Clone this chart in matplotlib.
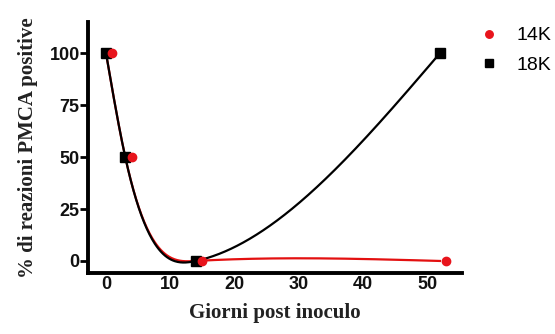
import matplotlib.pyplot as plt
import numpy as np

# dati
giorni = [0, 3, 14, 52]
perc_14k = [100, 50, 0, 0]
perc_18k = [100, 50, 0, 100]
spost_14k = 1  # i punti 14K sono spostati di un giorno per non coprirsi


def spline_naturale(x, y, xs):
    # spline cubica naturale che passa per tutti i punti
    x = np.asarray(x, float)
    y = np.asarray(y, float)
    n = len(x)
    h = np.diff(x)
    d = np.diff(y) / h
    A = np.zeros((n, n))
    b = np.zeros(n)
    A[0, 0] = 1
    A[-1, -1] = 1
    for i in range(1, n - 1):
        A[i, i - 1] = h[i - 1]
        A[i, i] = 2 * (h[i - 1] + h[i])
        A[i, i + 1] = h[i]
        b[i] = 6 * (d[i] - d[i - 1])
    M = np.linalg.solve(A, b)
    k = np.clip(np.searchsorted(x, xs) - 1, 0, n - 2)
    a = x[k + 1] - xs
    c = xs - x[k]
    hk = h[k]
    return (M[k] * a**3 / (6 * hk) + M[k + 1] * c**3 / (6 * hk)
            + (y[k] / hk - M[k] * hk / 6) * a + (y[k + 1] / hk - M[k + 1] * hk / 6) * c)


fig = plt.figure(figsize=(5.55, 3.34), dpi=100)
ax = fig.add_axes([0.1586, 0.1826, 0.6734, 0.7514])

xs = np.linspace(giorni[0], giorni[-1], 500)
ax.plot(xs, spline_naturale(giorni, perc_14k, xs), color='#e31010', lw=1.6, zorder=2)
ax.plot(xs, spline_naturale(giorni, perc_18k, xs), color='black', lw=1.6, zorder=3)

ax.plot(giorni, perc_18k, 's', color='black', ms=7, label='18K', zorder=4, clip_on=False)
ax.plot(np.array(giorni) + spost_14k, perc_14k, 'o', color='#e8141c', ms=6, label='14K',
        zorder=5, clip_on=False)

ax.set_xlim(-2.8, 55.4)
ax.set_ylim(-5.8, 115)
ax.set_xticks([0, 10, 20, 30, 40, 50])
ax.set_yticks([0, 25, 50, 75, 100])

for s in ['top', 'right']:
    ax.spines[s].set_visible(False)
for s in ['left', 'bottom']:
    ax.spines[s].set_linewidth(2.8)
ax.tick_params(axis='y', length=6, width=2, labelsize=13, pad=0)
ax.tick_params(axis='x', length=0, labelsize=13, pad=2)
for lab in ax.get_xticklabels() + ax.get_yticklabels():
    lab.set_fontweight('bold')
    lab.set_family('Liberation Sans')
    lab.set_color('#111111')

ax.set_xlabel('Giorni post inoculo', family='Liberation Serif', fontweight='bold',
              fontsize=15, labelpad=7, color='#222222')
ax.set_ylabel('% di reazioni PMCA positive', family='Liberation Serif', fontweight='bold',
              fontsize=15, labelpad=8, color='#222222')

h, l = ax.get_legend_handles_labels()
fig.legend(h[::-1], l[::-1], loc='upper left', bbox_to_anchor=(0.832, 0.972), frameon=False,
           prop={'family': 'Liberation Sans', 'size': 14}, handlelength=1.0,
           handletextpad=0.9, labelspacing=0.6, markerscale=0.9)

fig.savefig('out.png', dpi=100)
